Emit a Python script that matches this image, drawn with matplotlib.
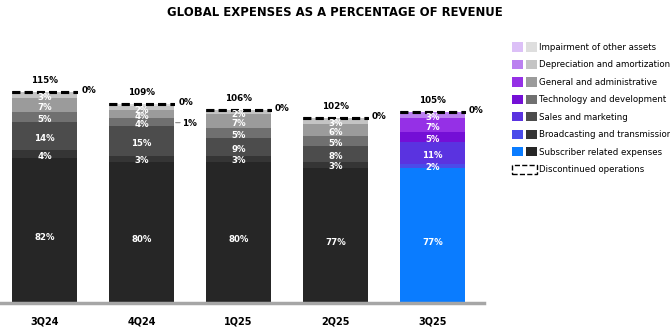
import matplotlib
matplotlib.use("Agg")
import numpy as np
import matplotlib.pyplot as plt
from matplotlib.patches import Patch
from matplotlib.legend_handler import HandlerTuple

plt.rcParams['font.family'] = ['DejaVu Sans']

quarters = ["3Q24", "4Q24", "1Q25", "2Q25", "3Q25"]
categories = ["Subscriber related expenses", "Broadcasting and transmission",
              "Sales and marketing", "Technology and development",
              "General and administrative", "Depreciation and amortization",
              "Impairment of other assets"]
subscriber = [82, 80, 80, 77, 77]
broadcasting = [4, 3, 3, 3, 2]
sales = [14, 15, 9, 8, 11]
technology = [5, 4, 5, 5, 5]
general = [7, 4, 7, 6, 7]
depreciation = [3, 2, 2, 3, 3]
impairment = [0, 1, 0, 0, 0]
discontinued = [0, 0, 0, 0, 0]
totals = [115, 109, 106, 102, 105]

series = [subscriber, broadcasting, sales, technology, general, depreciation, impairment]
gray_colors = ["#262626", "#353535", "#4c4c4c", "#707070", "#9b9b9b", "#c4c4c4", "#dedede"]
purple_colors = ["#0a7cff", "#4a4bea", "#5a33e0", "#740fd6", "#9530e6", "#bb80f0", "#dcc0f7"]

fig = plt.figure(figsize=(6.7, 3.32), dpi=100)
ax = fig.add_axes([0.0, 0.0873, 0.722, 0.741])

# the source graphic stretches the upper (smaller) segments slightly
P = 1.108
ax.set_yscale('function', functions=(lambda y: np.sign(y) * np.abs(y) ** P,
                                     lambda y: np.sign(y) * np.abs(y) ** (1 / P)))

width = 0.67
x = list(range(len(quarters)))
bottoms = [0] * len(quarters)
for si, vals in enumerate(series):
    cols = [gray_colors[si]] * (len(quarters) - 1) + [purple_colors[si]]
    ax.bar(x, vals, width, bottom=bottoms, color=cols, edgecolor='none')
    for i, v in enumerate(vals):
        if v <= 0:
            continue
        if si == 6:
            t = ax.annotate(f"{v}%", xy=(i + width / 2, bottoms[i] + v / 2),
                            xytext=(6, -13), textcoords='offset points',
                            fontsize=6.3, fontweight='bold', color='black',
                            va='center', ha='left')
            ax.annotate("", xy=(-0.15, 0.55), xycoords=t, xytext=(-0.45, 0.55),
                        textcoords=t,
                        arrowprops=dict(arrowstyle='-', color='#888888', lw=0.8,
                                        shrinkA=0, shrinkB=0))
        else:
            dy = -2.0 if si == 5 else -1.5
            ax.annotate(f"{v}%", xy=(i, bottoms[i] + v / 2), xytext=(0, dy),
                        textcoords='offset points', ha='center', va='center',
                        fontsize=6.2, fontweight='bold', color='white')
    bottoms = [b + v for b, v in zip(bottoms, vals)]

# discontinued operations (dashed outline)
ax.bar(x, discontinued, width, bottom=bottoms, facecolor='none', edgecolor='black',
       linestyle=(0, (2.5, 1.5)), linewidth=2.2)
for i in x:
    ax.annotate(f"{discontinued[i]}%", xy=(i + width / 2, bottoms[i]),
                xytext=(3, 1), textcoords='offset points', fontsize=6.3,
                fontweight='bold', ha='left', va='center')
    ax.annotate(f"{totals[i]}%", xy=(i, bottoms[i]), xytext=(0, 5),
                textcoords='offset points', fontsize=6.3, fontweight='bold',
                ha='center', va='bottom')

ax.set_xlim(-0.46, 4.53)
ax.set_ylim(0, 132)
ax.set_xticks(x)
ax.set_xticklabels(quarters, fontsize=7, fontweight='bold')
ax.tick_params(axis='x', length=0, pad=10)
ax.set_yticks([])
ax.minorticks_off()
for s in ['top', 'right', 'left']:
    ax.spines[s].set_visible(False)
ax.spines['bottom'].set_color('#a6a6a6')
ax.spines['bottom'].set_linewidth(2.5)

fig.text(0.5, 0.963, "GLOBAL EXPENSES AS A PERCENTAGE OF REVENUE", ha='center',
         va='center', fontsize=8.4, fontweight='bold')

handles = []
labels = []
for si in range(len(categories) - 1, -1, -1):
    handles.append((Patch(facecolor=purple_colors[si]), Patch(facecolor=gray_colors[si])))
    labels.append(categories[si])
handles.append(Patch(facecolor='white', edgecolor='black', linestyle='--', linewidth=1))
labels.append("Discontinued operations")

fig.legend(handles, labels, loc='upper left', bbox_to_anchor=(0.764, 0.872),
           frameon=False, fontsize=6.2, handler_map={tuple: HandlerTuple(ndivide=None, pad=0.35)},
           handlelength=2.9, handleheight=1.25, handletextpad=0.25, labelspacing=0.93,
           borderpad=0, borderaxespad=0)

fig.savefig("out.png", dpi=100)
